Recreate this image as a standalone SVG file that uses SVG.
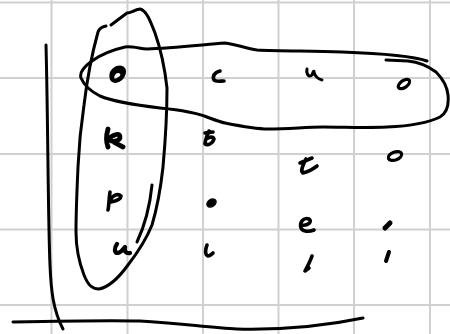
<svg xmlns="http://www.w3.org/2000/svg" width="450" height="334" viewBox="0 0 450 334">
<style>
.grid line{stroke:#d0d0d0;stroke-width:2}
.ink{fill:none;stroke:#000;stroke-width:3;stroke-linecap:round;stroke-linejoin:round}
.mark{fill:none;stroke:#000;stroke-width:3.6;stroke-linecap:round;stroke-linejoin:round}
.blob{fill:#000;stroke:#000;stroke-width:1.5}
</style>
<rect width="450" height="334" fill="#fff"/>
<g id="grid" class="grid">
<line x1="51.5" y1="0" x2="51.5" y2="334"/>
<line x1="127.5" y1="0" x2="127.5" y2="334"/>
<line x1="203" y1="0" x2="203" y2="334"/>
<line x1="278.5" y1="0" x2="278.5" y2="334"/>
<line x1="354" y1="0" x2="354" y2="334"/>
<line x1="430" y1="0" x2="430" y2="334"/>
<line x1="0" y1="2.5" x2="450" y2="2.5"/>
<line x1="0" y1="78" x2="450" y2="78"/>
<line x1="0" y1="154" x2="450" y2="154"/>
<line x1="0" y1="229.5" x2="450" y2="229.5"/>
<line x1="0" y1="305" x2="450" y2="305"/>
</g>
<g id="axes" class="ink">
<path d="M46,45 C48,120 48,220 50,265 C51,290 53,310 63,329"/>
<path d="M13,322 C60,321 110,320 140,321 C180,323 210,328 237,329 C280,330 320,327 363,318"/>
</g>
<g id="lasso-column" class="ink">
<path d="M111,25 L127,13 C131,13 134,10 140,9 C146,10 150,20 155,33 C161,50 165,70 167,88 C167,115 165,145 163,167 C161,185 158,205 152,225 C146,240 138,252 128,265 C120,276 110,287 99,289 C92,289 88,285 84,275 C79,262 76,248 76,232 C76,210 77,190 78,167 C79,145 81,125 84,105 C87,80 93,50 98,32 C99,29 101,27 106,26"/>
<path d="M152,185 C150,205 145,225 137,242"/>
</g>
<g id="lasso-row" class="ink">
<path d="M427,61 C410,55 370,53 342,52 C310,51 280,51 257,50 C245,48 235,44 225,43 C200,45 170,48 147,49 C138,48 130,46 125,47 C112,50 100,55 92,61 C85,66 79,72 81,78 C84,85 92,92 100,96 C112,101 135,105 160,108 C180,110 195,112 207,117 C215,120 220,122 225,123 C240,126 255,129 268,129 C290,129 305,127 323,127 C345,127 365,128 387,127 C410,126 430,122 440,117 C447,113 449,105 448,95 C447,85 442,78 436,72 C428,66 418,62 408,61 L386,60"/>
</g>
<g id="marks">
<path class="mark" style="stroke-width:4.5" d="M112,78 C110,72 116,67 121,68 C126,69 124,77 118,80 C113,82 110,79 113,74 C115,70 121,70 122,73"/>
<path class="mark" d="M220,71 C215,72 212,76 214,80 C216,82 220,81 224,81"/>
<path class="mark" style="stroke-width:3" d="M307,69 C306,74 309,78 312,75 C313,72 314,70 314,72 C315,76 318,79 322,80"/>
<ellipse class="mark" style="stroke-width:3.2" cx="404" cy="84" rx="6.5" ry="3.5" transform="rotate(-35 404 84)"/>
<path class="mark" style="stroke-width:4.8" d="M108,129 C106,136 106,142 108,147 M108,140 C113,134 121,132 120,138 C118,142 112,142 110,140 C115,143 119,145 123,147"/>
<path class="mark" d="M209,131 C207,136 205,140 205,144 C208,146 213,143 214,139 C213,136 209,137 206,139 M205,133 L213,132"/>
<path class="mark" d="M300,163 L312,158 M306,159 C303,165 300,171 303,173 C308,172 313,169 317,166"/>
<ellipse class="mark" style="stroke-width:3.2" cx="395" cy="156" rx="7" ry="4" transform="rotate(-20 395 156)"/>
<path class="mark" d="M110,192 C109,198 109,205 108,210 M110,200 C113,195 118,193 121,196 C121,199 116,201 111,202"/>
<ellipse class="blob" cx="211.5" cy="203" rx="5" ry="3.5" transform="rotate(-35 211.5 203)"/>
<path class="mark" d="M302,225 C307,226 313,222 309,219 C304,217 299,222 301,228 C303,232 309,232 314,230"/>
<path class="mark" style="stroke-width:5" d="M385,228 L390,223"/>
<path class="mark" style="stroke-width:4.2" d="M117,244 C114,248 114,253 118,253 C122,252 124,248 125,247 C124,251 126,254 130,253"/>
<path class="mark" d="M207,245 C205,250 205,255 208,256 C210,256 212,254 213,253"/>
<path class="mark" d="M312,256 C310,262 307,267 305,271 L309,268"/>
<path class="mark" style="stroke-width:4" d="M389,252 L386,261"/>
</g>
</svg>
